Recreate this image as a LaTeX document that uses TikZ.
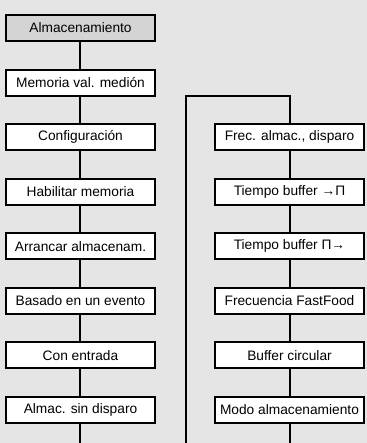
\documentclass[tikz,border=0pt]{standalone}
\usepackage{fontspec}
\setmainfont{Liberation Sans}
\usetikzlibrary{positioning, calc}

\definecolor{bgcol}{gray}{0.9}
\definecolor{headcol}{gray}{0.83}

\begin{document}
\begin{tikzpicture}[
    menu/.style={draw, fill=white, line width=1.5pt, minimum width=111.75pt, minimum height=19.5pt, inner sep=0pt, align=center, font=\fontsize{10.3}{12}\selectfont},
    head/.style={menu, fill=headcol},
    link/.style={line width=1.5pt},
    node distance=19.9pt
]

    % Frame
    \fill[bgcol] (-60.375pt,21pt) rectangle (214.875pt,-311.25pt);
    \useasboundingbox (-60.375pt,21pt) rectangle (214.875pt,-311.25pt);
    \coordinate (bot) at (0,-311.25pt);

    % Left column
    \node[head] (alm) at (0,0) {Almacenamiento};
    \node[menu, below=of alm] (mem) {Memoria val. medión};
    \node[menu, below=of mem] (cfg) {Configuración};
    \node[menu, below=of cfg] (hab) {Habilitar memoria};
    \node[menu, below=of hab] (arr) {Arrancar almacenam.};
    \node[menu, below=of arr] (bas) {Basado en un evento};
    \node[menu, below=of bas] (con) {Con entrada};
    \node[menu, below=of con] (sin) {Almac. sin disparo};

    % Right column
    \node[menu, right=43.5pt of cfg] (frec) {Frec. almac., disparo};
    \node[menu, below=of frec] (tin) {Tiempo buffer →Π};
    \node[menu, below=of tin] (tout) {Tiempo buffer Π→};
    \node[menu, below=of tout] (ff) {Frecuencia FastFood};
    \node[menu, below=of ff] (circ) {Buffer circular};
    \node[menu, below=of circ] (modo) {Modo almacenamiento};

    % Connectors
    \draw[link] (alm) -- (mem);
    \draw[link] (mem) -- (cfg);
    \draw[link] (cfg) -- (hab);
    \draw[link] (hab) -- (arr);
    \draw[link] (arr) -- (bas);
    \draw[link] (bas) -- (con);
    \draw[link] (con) -- (sin);
    \draw[link] (sin) -- (sin |- bot);

    \draw[link] (frec) -- (tin);
    \draw[link] (tin) -- (tout);
    \draw[link] (tout) -- (ff);
    \draw[link] (ff) -- (circ);
    \draw[link] (circ) -- (modo);
    \draw[link] (modo) -- (modo |- bot);

    % Return line
    \coordinate (up) at ($(frec.north)+(0,20.25pt)$);
    \draw[link] (frec.north) -- (up) -| ($(cfg.east |- bot)+(22.5pt,0)$);

\end{tikzpicture}
\end{document}
